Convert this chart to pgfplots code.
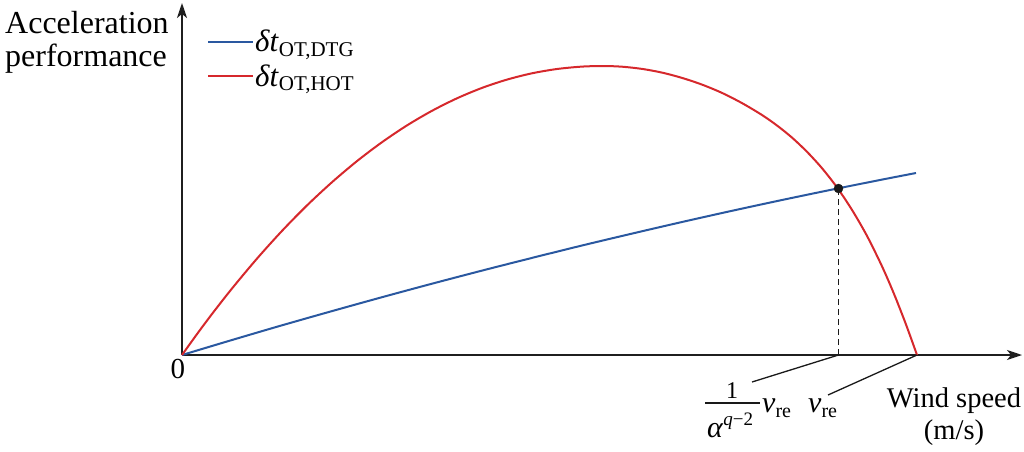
\documentclass[border=0pt]{standalone}
\usepackage{pgfplots}
\pgfplotsset{compat=1.18}
\usepackage{fontspec}
\setmainfont{Liberation Serif}
\usetikzlibrary{arrows.meta}
\definecolor{cblue}{RGB}{42,88,160}
\definecolor{cred}{RGB}{214,40,44}
\newcommand{\sub}[1]{\raisebox{-4.5pt}{\fontsize{21}{21}\selectfont #1}}
\begin{document}
\begin{tikzpicture}[font=\rmfamily]
\useasboundingbox (-182pt,-96pt) rectangle (842pt,355pt);
\begin{axis}[
  at={(0pt,0pt)}, anchor=origin,
  x=1pt, y=1pt,
  xmin=0, xmax=840, ymin=0, ymax=352,
  axis lines=left,
  axis line style={line width=1.8pt, black!88, -{Stealth[length=15pt,width=10pt,inset=4pt]}},
  xtick=\empty, ytick=\empty,
  clip=false,
  legend cell align=left,
  legend style={at={(axis cs:25,326)}, anchor=north west, draw=none, fill=none,
    font=\rmfamily\fontsize{31}{31}\selectfont, row sep=9pt, inner sep=0pt,
    nodes={inner sep=1pt}},
  legend image code/.code={\draw[#1] (0pt,0pt) -- (45pt,0pt);},
]
\addplot[cblue, line width=2pt, smooth] coordinates {
(0,0) (50,15.0) (100,29.7) (150,43.9) (200,57.8) (250,71.3) (300,84.4) (350,97.1)
(400,109.5) (450,121.4) (500,133.0) (550,144.2) (600,155.0) (650,165.4) (700,175.4) (734,182.0)};
\addlegendentry{\textit{δt}\sub{OT,DTG}}
\addplot[cred, line width=2pt, smooth] coordinates {
(0,0) (15,20.9) (30,41.0) (50,66.5) (75,96.4) (100,124.1) (125,149.6) (150,172.8)
(175,193.9) (200,212.8) (225,229.6) (250,244.2) (275,256.7) (300,267.1) (325,275.4)
(350,281.7) (375,286.0) (400,288.4) (421,289.0) (440,288.3) (460,286.1) (480,282.4)
(500,277.1) (520,270.4) (540,262.1) (560,251.9) (580,240.0) (595,229.5) (610,217.4)
(625,203.2) (640,186.8) (655,167.6) (670,145.1) (685,119.1) (700,88.7) (712,61.1)
(724,30.5) (735,0)};
\addlegendentry{\textit{δt}\sub{OT,HOT}}
\addplot[black!90, line width=1.9pt, dash pattern=on 6pt off 4pt, forget plot] coordinates {(656.5,0) (656.5,166.5)};
\addplot[black!90, only marks, mark=*, mark size=4.5pt, forget plot] coordinates {(656.5,166.5)};
\addplot[black!90, line width=1.3pt, forget plot] coordinates {(656.5,0) (570,-27)};
\addplot[black!90, line width=1.3pt, forget plot] coordinates {(735,0) (646,-40)};
\node[anchor=base west, inner sep=0pt, font=\rmfamily\fontsize{32}{36}\selectfont] at (axis cs:-177,322) {Acceleration};
\node[anchor=base west, inner sep=0pt, font=\rmfamily\fontsize{32}{36}\selectfont] at (axis cs:-177,289) {performance};
\node[anchor=base, inner sep=0pt, font=\rmfamily\fontsize{29}{29}\selectfont] at (axis cs:-4,-23) {0};
\node[anchor=base, inner sep=0pt, font=\rmfamily\fontsize{28.5}{30}\selectfont] at (axis cs:772,-52) {Wind speed};
\node[anchor=base, inner sep=0pt, font=\rmfamily\fontsize{28.5}{30}\selectfont] at (axis cs:772,-84) {(m/s)};
\node[anchor=base, inner sep=0pt, font=\rmfamily\fontsize{24}{24}\selectfont] at (axis cs:550,-43) {1};
\draw[black!90, line width=1.3pt] (axis cs:523,-48) -- (axis cs:578,-48);
\node[anchor=base west, inner sep=0pt, font=\rmfamily\fontsize{30}{30}\selectfont] at (axis cs:525,-82) {\textit{α}\raisebox{12pt}{\fontsize{19}{19}\selectfont\textit{q}−2}};
\node[anchor=base west, inner sep=0pt, font=\rmfamily\fontsize{30}{30}\selectfont] at (axis cs:580,-57) {\textit{v}\raisebox{-5pt}{\fontsize{20}{20}\selectfont re}};
\node[anchor=base west, inner sep=0pt, font=\rmfamily\fontsize{30}{30}\selectfont] at (axis cs:626,-57) {\textit{v}\raisebox{-5pt}{\fontsize{20}{20}\selectfont re}};
\end{axis}
\end{tikzpicture}
\end{document}
